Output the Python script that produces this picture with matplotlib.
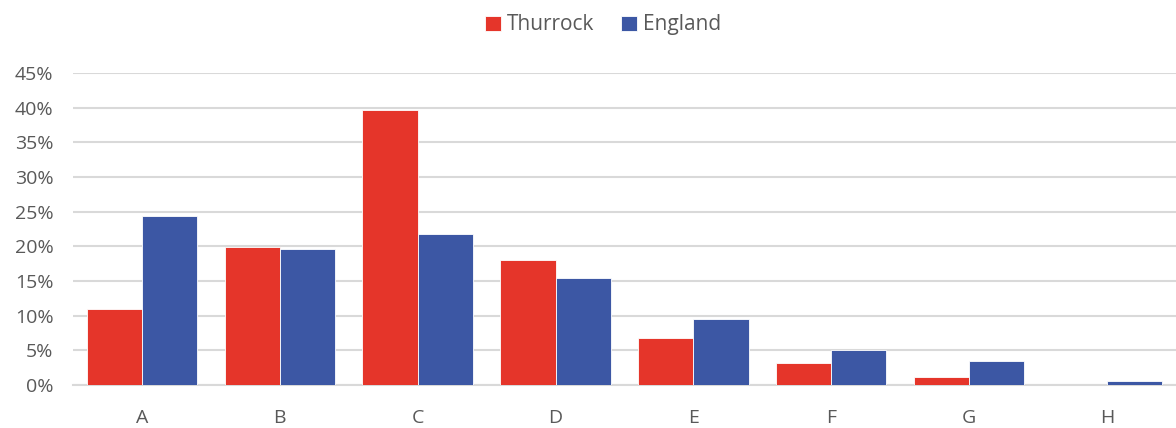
import matplotlib
matplotlib.use("Agg")
import matplotlib.pyplot as plt
import numpy as np
from matplotlib.ticker import FuncFormatter, MultipleLocator

categories = ["A", "B", "C", "D", "E", "F", "G", "H"]
thurrock = [0.110, 0.199, 0.397, 0.180, 0.068, 0.032, 0.012, 0.000]
england = [0.244, 0.196, 0.218, 0.154, 0.095, 0.050, 0.035, 0.006]
series_names = ["Thurrock", "England"]

red = "#E5352A"
blue = "#3C57A4"
grey_text = "#595959"
grid = "#D9D9D9"

plt.rcParams['font.family'] = ['Open Sans', 'DejaVu Sans']

fig = plt.figure(figsize=(11.76, 4.28), dpi=100)
ax = fig.add_axes([0.062, 0.1005, 0.938, 0.7289])

x = np.arange(len(categories))
w = 0.4
ax.bar(x - w/2, thurrock, w, color=red, edgecolor="white", linewidth=0.6, label=series_names[0], zorder=3)
ax.bar(x + w/2, england, w, color=blue, edgecolor="white", linewidth=0.6, label=series_names[1], zorder=3)

ax.set_xlim(-0.5, len(categories) - 0.5)
ax.set_ylim(0, 0.45)
ax.yaxis.set_major_locator(MultipleLocator(0.05))
ax.yaxis.set_major_formatter(FuncFormatter(lambda v, p: f"{v*100:.0f}%"))
ax.set_xticks(x)
ax.set_xticklabels(categories)
ax.grid(axis="y", color=grid, linewidth=1.5, zorder=0)
ax.set_axisbelow(True)
for s in ["top", "right", "left"]:
    ax.spines[s].set_visible(False)
ax.spines["bottom"].set_color(grid)
ax.spines["bottom"].set_linewidth(1.5)
ax.tick_params(axis="both", length=0, labelsize=14, colors=grey_text)
ax.tick_params(axis="x", pad=17)
ax.tick_params(axis="y", pad=14)

fig.legend(loc="upper center", bbox_to_anchor=(0.513, 1.01), ncol=2, frameon=False,
           fontsize=15, labelcolor=grey_text, handlelength=0.75, handleheight=0.75,
           handletextpad=0.3, columnspacing=1.3)

fig.savefig("out.png", dpi=100)
